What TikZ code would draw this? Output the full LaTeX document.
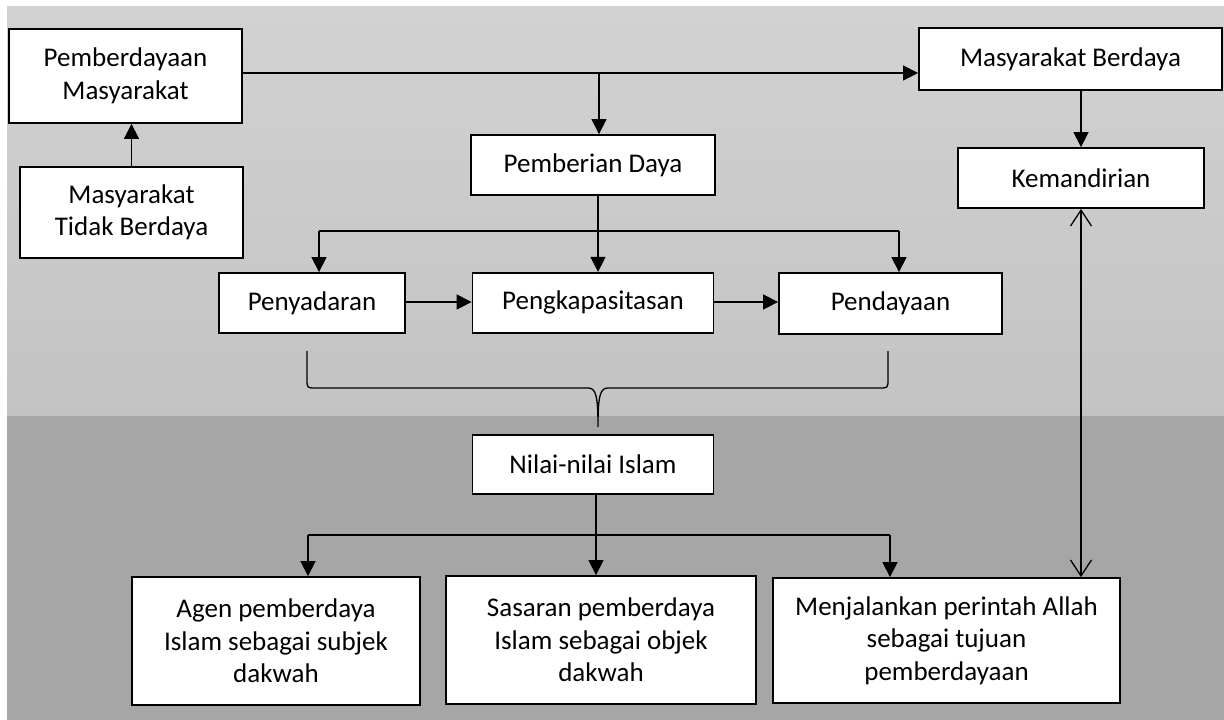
\documentclass[tikz,border=0pt]{standalone}
\usepackage{fontspec}
\setmainfont{Carlito}
\usetikzlibrary{arrows.meta, positioning}
\definecolor{bandtop}{RGB}{210,210,210}
\definecolor{bandmid}{RGB}{195,195,195}
\definecolor{bandlow}{RGB}{166,166,166}

\begin{document}
\begin{tikzpicture}[x=1pt, y=-1pt,
    box/.style={rectangle, draw=black, fill=white, line width=1.8pt, inner sep=0pt, align=center, font=\fontsize{27}{32.5}\selectfont},
    link/.style={-{Triangle[length=15pt,width=15pt]}, line width=1.3pt},
    plain/.style={line width=1.3pt},
    both/.style={{Straight Barb[length=16pt,width=21pt]}-{Straight Barb[length=16pt,width=21pt]}, line width=1.3pt}
]
    \useasboundingbox (0,0) rectangle (1224,720);
    \shade[top color=bandtop, bottom color=bandmid] (7,6) rectangle (1224,416);
    \fill[bandlow] (7,416) rectangle (1224,720);

    \node[box, minimum width=233pt, minimum height=94pt] (pm) at (125.5,76) {Pemberdayaan\\ Masyarakat};
    \node[box, minimum width=223pt, minimum height=91pt] (tb) at (131.5,212.5) {Masyarakat\\ Tidak Berdaya};
    \node[box, minimum width=303pt, minimum height=62pt] (mb) at (1070.5,59) {Masyarakat Berdaya};
    \node[box, minimum width=244pt, minimum height=60pt] (pd) at (593,165) {Pemberian Daya};
    \node[box, minimum width=246pt, minimum height=60pt] (km) at (1081,178) {Kemandirian};
    \node[box, minimum width=241pt, minimum height=60pt, below=76pt of pd] (pk) {Pengkapasitasan};
    \node[box, minimum width=186pt, minimum height=60pt] (py) at (312,303) {Penyadaran};
    \node[box, minimum width=223pt, minimum height=61pt] (pn) at (890.5,303.5) {Pendayaan};
    \node[box, minimum width=241pt, minimum height=59pt, below=100pt of pk] (ni) {Nilai-nilai Islam};
    \node[box, minimum width=288pt, minimum height=128pt] (ag) at (276,641) {Agen pemberdaya\\ Islam sebagai subjek\\ dakwah};
    \node[box, minimum width=310pt, minimum height=128pt] (ss) at (601,640) {Sasaran pemberdaya\\ Islam sebagai objek\\ dakwah};
    \node[box, minimum width=347pt, minimum height=125pt] (mj) at (946.5,640.5) {Menjalankan perintah Allah\\ sebagai tujuan\\ pemberdayaan};

    \coordinate (split) at (599,73);
    \coordinate (fork) at (598,231);
    \coordinate (forkl) at (319,231);
    \coordinate (forkr) at (899,231);
    \coordinate (mid) at (0,302);
    \coordinate (nfork) at (596,535);
    \coordinate (nforkl) at (308,535);
    \coordinate (nforkr) at (890,535);

    \draw[link] (tb.north) -- (tb.north |- pm.south);
    \draw[link] (pm.east |- split) -- (mb.west |- split);
    \draw[link] (split) -- (split |- pd.north);
    \draw[link] (km.north |- mb.south) -- (km.north);

    \draw[link] (pd.south -| fork) -- (fork |- pk.north);
    \draw[plain] (forkl) -- (forkr);
    \draw[link] (forkl) -- (forkl |- py.north);
    \draw[link] (forkr) -- (forkr |- pn.north);
    \draw[link] (py.east |- mid) -- (pk.west |- mid);
    \draw[link] (pk.east |- mid) -- (pn.west |- mid);

    \draw[plain] (307,351) -- (307,379) .. controls (307,388) .. (316,388) -- (588,388)
        .. controls (596,388) and (598,396) .. (598,427)
        .. controls (598,396) and (600,388) .. (608,388) -- (879,388)
        .. controls (888,388) .. (888,379) -- (888,351);

    \draw[link] (ni.south -| nfork) -- (nfork |- ss.north);
    \draw[plain] (nforkl) -- (nforkr);
    \draw[link] (nforkl) -- (nforkl |- ag.north);
    \draw[link] (nforkr) -- (nforkr |- mj.north);
    \draw[both] (km.south) -- (km.south |- mj.north);
\end{tikzpicture}
\end{document}
